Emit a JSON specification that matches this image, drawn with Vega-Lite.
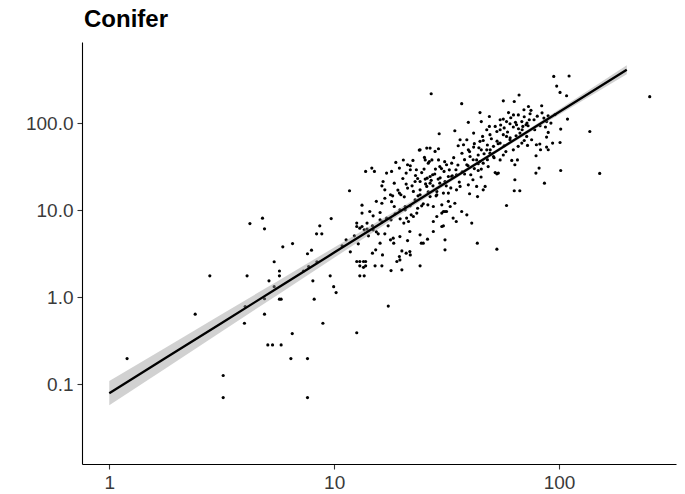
{
  "$schema": "https://vega.github.io/schema/vega-lite/v6.json",
  "width": 594,
  "height": 422,
  "autosize": "none",
  "padding": {"left": 82, "top": 42, "right": 9, "bottom": 30},
  "background": "white",
  "config": {
    "view": {"stroke": null},
    "font": "Liberation Sans",
    "axis": {
      "grid": false,
      "domainColor": "black",
      "domainWidth": 1.1,
      "tickColor": "#333333",
      "tickSize": 5,
      "tickWidth": 1.1,
      "labelFont": "Liberation Sans",
      "labelFontSize": 19,
      "labelColor": "#3a3a3a",
      "title": null
    }
  },
  "title": {
    "text": "Conifer",
    "anchor": "start",
    "frame": "group",
    "offset": 10,
    "font": "Liberation Sans",
    "fontSize": 24,
    "fontWeight": "bold",
    "color": "black",
    "dx": 2
  },
  "datasets": {
    "pts": [
      {"x":1.2,"y":0.197},{"x":2.41,"y":0.638},{"x":2.8,"y":1.76},{"x":3.21,"y":0.126},{"x":3.21,"y":0.0702},{"x":4.1,"y":1.76},{"x":3.99,"y":0.502},{"x":4.02,"y":0.78},{"x":4.22,"y":7.01},{"x":4.8,"y":8.09},{"x":4.9,"y":6.1},{"x":5.13,"y":1.54},{"x":5.41,"y":2.55},{"x":5.41,"y":1.32},{"x":4.9,"y":0.96},{"x":4.9,"y":0.638},{"x":5.71,"y":2.0},{"x":5.71,"y":1.76},{"x":5.71,"y":0.948},{"x":5.81,"y":0.948},{"x":5.91,"y":3.79},{"x":6.53,"y":4.13},{"x":6.51,"y":0.382},{"x":5.07,"y":0.283},{"x":5.32,"y":0.283},{"x":5.81,"y":0.283},{"x":6.42,"y":0.197},{"x":7.61,"y":0.197},{"x":7.61,"y":0.0702},{"x":7.61,"y":3.15},{"x":7.93,"y":3.47},{"x":8.04,"y":1.54},{"x":8.15,"y":0.948},{"x":8.91,"y":0.502},{"x":8.38,"y":2.55},{"x":8.63,"y":6.6},{"x":8.35,"y":5.34},{"x":8.81,"y":5.34},{"x":9.7,"y":8.0},{"x":9.6,"y":1.76},{"x":9.95,"y":1.32},{"x":10.2,"y":1.13},{"x":7.3,"y":2.0},{"x":7.7,"y":2.25},
      {"x":27.0,"y":217},{"x":29.3,"y":75.3},{"x":23.9,"y":48.9},{"x":25.8,"y":51.6},{"x":26.7,"y":51.6},{"x":29.1,"y":50.7},{"x":25.2,"y":40.3},{"x":26.5,"y":36.2},{"x":29.1,"y":37.7},{"x":22.4,"y":37.2},{"x":20.3,"y":37.6},{"x":18.8,"y":35.3},{"x":21.2,"y":33.2},{"x":21.8,"y":32.3},{"x":19.5,"y":30.4},{"x":21.8,"y":29.1},{"x":20.9,"y":26.6},{"x":25.1,"y":29.6},{"x":23.2,"y":29.1},{"x":28.2,"y":29.6},{"x":27.4,"y":25.5},{"x":25.9,"y":23.3},{"x":23.5,"y":23.1},{"x":20.2,"y":23.1},{"x":18.5,"y":20.4},{"x":20.9,"y":19.9},{"x":21.2,"y":17.9},{"x":22.9,"y":21.3},{"x":24.1,"y":21.3},{"x":26.7,"y":20.4},{"x":29.5,"y":20.4},{"x":32.2,"y":24.3},{"x":30.8,"y":27.8},{"x":30.6,"y":15.7},{"x":32.2,"y":15.7},{"x":28.6,"y":15.0},{"x":26.2,"y":15.7},{"x":24.1,"y":15.0},{"x":22.5,"y":16.4},{"x":19.5,"y":15.7},{"x":19.8,"y":15.0},{"x":17.8,"y":15.0},{"x":18.2,"y":14.6},{"x":16.8,"y":17.1},{"x":16.5,"y":21.3},{"x":16.3,"y":19.0},{"x":17.1,"y":26.6},{"x":18.0,"y":27.8},{"x":15.1,"y":27.8},{"x":13.8,"y":27.8},{"x":14.7,"y":30.4},{"x":11.7,"y":16.7},{"x":13.3,"y":11.4},{"x":13.3,"y":9.24},{"x":14.4,"y":9.64},{"x":14.9,"y":8.59},{"x":16.0,"y":9.38},{"x":15.4,"y":12.6},{"x":16.3,"y":12.0},{"x":16.8,"y":13.7},{"x":16.0,"y":7.73},{"x":17.1,"y":8.09},{"x":17.9,"y":7.73},{"x":18.5,"y":11.0},{"x":19.6,"y":10.1},{"x":20.7,"y":11.0},{"x":22.0,"y":8.83},{"x":21.4,"y":7.4},{"x":23.5,"y":10.5},{"x":24.5,"y":11.2},{"x":26.1,"y":11.5},{"x":27.6,"y":11.0},{"x":28.6,"y":8.44},{"x":31.1,"y":9.64},{"x":30.1,"y":6.48},{"x":31.1,"y":3.5},{"x":27.6,"y":5.68},{"x":26.0,"y":4.64},{"x":24.9,"y":4.17},{"x":24.4,"y":4.17},{"x":24.1,"y":5.2},{"x":21.7,"y":5.68},{"x":21.2,"y":4.47},{"x":19.6,"y":4.97},{"x":18.3,"y":4.76},{"x":17.8,"y":4.56},{"x":18.4,"y":4.17},{"x":16.8,"y":5.34},{"x":15.7,"y":5.34},{"x":14.9,"y":5.94},{"x":14.0,"y":7.09},{"x":13.3,"y":6.48},{"x":12.6,"y":7.09},{"x":12.6,"y":6.48},{"x":13.0,"y":6.2},{"x":14.0,"y":6.05},{"x":16.0,"y":4.17},{"x":14.8,"y":3.2},{"x":15.3,"y":3.5},{"x":16.4,"y":3.06},{"x":19.5,"y":2.93},{"x":20.0,"y":3.4},{"x":20.9,"y":3.2},{"x":21.7,"y":3.34},{"x":21.8,"y":3.06},{"x":19.0,"y":2.57},{"x":19.6,"y":2.68},{"x":17.9,"y":2.02},{"x":24.1,"y":2.29},{"x":15.2,"y":2.29},{"x":16.3,"y":2.29},{"x":13.8,"y":2.29},{"x":12.6,"y":2.57},{"x":13.0,"y":2.57},{"x":13.5,"y":2.57},{"x":13.8,"y":2.57},{"x":13.0,"y":2.29},{"x":13.5,"y":2.2},{"x":13.0,"y":1.76},{"x":13.6,"y":1.76},
      {"x":36.9,"y":167},{"x":94.7,"y":343},{"x":110.8,"y":347},{"x":97.6,"y":266},{"x":101,"y":225},{"x":108,"y":206},{"x":253,"y":201},{"x":56.5,"y":180},{"x":63.2,"y":177},{"x":66.4,"y":210},{"x":83.7,"y":158},{"x":73.1,"y":155},{"x":69.8,"y":142},{"x":74.3,"y":128},{"x":59.6,"y":132},{"x":62.7,"y":124},{"x":65.9,"y":124},{"x":44.5,"y":132},{"x":49.0,"y":119},{"x":54.7,"y":109},{"x":56.5,"y":111},{"x":58.4,"y":104},{"x":39.5,"y":102},{"x":45.1,"y":104},{"x":60.5,"y":98.2},{"x":62.6,"y":90},{"x":64.7,"y":95.6},{"x":68.3,"y":104},{"x":69.0,"y":91.4},{"x":71.3,"y":95.6},{"x":73.7,"y":109},{"x":77.9,"y":83.7},{"x":85.6,"y":114},{"x":88.0,"y":104},{"x":87.0,"y":90},{"x":89.5,"y":78},{"x":109,"y":111},{"x":101.7,"y":85.3},{"x":137,"y":80},{"x":88.0,"y":69},{"x":93.6,"y":58.9},{"x":101,"y":59.8},{"x":79.3,"y":56.3},{"x":82.1,"y":57.4},{"x":82.7,"y":49.3},{"x":88.0,"y":53.0},{"x":89.5,"y":49.3},{"x":72.4,"y":55.3},{"x":79.0,"y":42.1},{"x":81.5,"y":30.4},{"x":78.9,"y":26.6},{"x":86.1,"y":20.4},{"x":101.7,"y":28.5},{"x":151.6,"y":26.4},{"x":65.3,"y":37.7},{"x":63.6,"y":33.2},{"x":61.6,"y":37.2},{"x":63.6,"y":22.3},{"x":63.2,"y":16.7},{"x":66.9,"y":16.7},{"x":58.4,"y":11.3},{"x":53.7,"y":26.6},{"x":52.9,"y":26.1},{"x":52.0,"y":27},{"x":48.4,"y":31.6},{"x":46.0,"y":34.6},{"x":43.0,"y":37.7},{"x":44.5,"y":36.2},{"x":40.2,"y":41.3},{"x":38.9,"y":33.2},{"x":43.7,"y":28.5},{"x":45.1,"y":29.6},{"x":40.5,"y":25.5},{"x":41.4,"y":22.3},{"x":39.5,"y":19.5},{"x":43.0,"y":18.7},{"x":43.4,"y":14.3},{"x":46.0,"y":17.1},{"x":46.9,"y":18.7},{"x":40.0,"y":15.4},{"x":38.9,"y":8.83},{"x":36.9,"y":9.64},{"x":40.9,"y":7.09},{"x":43.3,"y":4.17},{"x":52.9,"y":3.56},{"x":34.9,"y":7.4},{"x":33.8,"y":8.1},{"x":31.6,"y":9.64},{"x":30.1,"y":9.24},{"x":30.6,"y":9.64},{"x":34.4,"y":12.0},{"x":32.2,"y":12.6},{"x":32.8,"y":11.0},{"x":30.1,"y":11.5},{"x":31.1,"y":4.56},{"x":30.6,"y":6.6},{"x":27.6,"y":7.4},{"x":23.3,"y":9.24},{"x":22.5,"y":8.44},{"x":21.0,"y":8.1},{"x":20.4,"y":7.1},{"x":28.6,"y":16.4},{"x":26.7,"y":14.3},{"x":24.1,"y":17.1},{"x":25.8,"y":18.7},{"x":36.3,"y":18.7},{"x":35.0,"y":17.1},{"x":29.0,"y":22.7},{"x":31.1,"y":21.3},{"x":26.7,"y":24.3},{"x":25.4,"y":22.7},{"x":33.3,"y":24.3},{"x":35.0,"y":25.5},{"x":29.5,"y":31.6},{"x":31.6,"y":33.2},{"x":33.3,"y":34.6},{"x":27.2,"y":37.7},{"x":26.2,"y":34.6},{"x":25.4,"y":37.7},{"x":28.1,"y":47.2},{"x":24.1,"y":49.2},{"x":34.4,"y":81.5},{"x":36.3,"y":64.3},{"x":35.6,"y":54.8},{"x":37.6,"y":56.3},{"x":39.5,"y":49.2},{"x":38.9,"y":64.3},{"x":41.7,"y":76.7},{"x":44.5,"y":61.6},{"x":45.7,"y":70.2},{"x":47.7,"y":83.7},{"x":49.3,"y":73.6},{"x":49.0,"y":91.4},{"x":52.0,"y":91.4},{"x":52.9,"y":80},{"x":54.7,"y":83.7},{"x":56.5,"y":73.6},{"x":58.4,"y":70.2},{"x":60.5,"y":64.3},{"x":54.7,"y":58.9},{"x":51.1,"y":54.0},{"x":47.7,"y":49.2},{"x":49.3,"y":45.1},{"x":45.1,"y":49.2},{"x":41.7,"y":53.0},{"x":43.7,"y":43},{"x":51.1,"y":41.3},{"x":54.7,"y":37.7},{"x":56.5,"y":43},{"x":62.6,"y":49.2},{"x":65.8,"y":54.0},{"x":68.3,"y":58.9},{"x":67.0,"y":76.7},{"x":71.8,"y":70.2},{"x":75.5,"y":64.3},
      {"x":16.35,"y":7.34},{"x":17.38,"y":6.6},{"x":18.67,"y":9.07},{"x":19.65,"y":7.94},{"x":20.69,"y":10.08},{"x":21.77,"y":11.2},{"x":22.9,"y":13.1},{"x":23.6,"y":14.6},{"x":24.9,"y":11.8},{"x":26.2,"y":16.2},{"x":27.5,"y":19.0},{"x":28.4,"y":14.6},{"x":29.6,"y":23.5},{"x":31.5,"y":19.0},{"x":33.5,"y":24.8},{"x":34.8,"y":29.1},{"x":37.1,"y":27.6},{"x":39.4,"y":32.3},{"x":41.5,"y":37.9},{"x":43.7,"y":34.1},{"x":46.4,"y":44.4},{"x":49.4,"y":49.3},{"x":51.4,"y":39.9},{"x":53.6,"y":57.8},{"x":57.0,"y":54.8},{"x":60.6,"y":67.8},{"x":64.4,"y":71.5},{"x":68.5,"y":83.8},{"x":72.8,"y":93.1},{"x":77.4,"y":109},{"x":82.3,"y":93.1},{"x":89.4,"y":121},
      {"x":10.85,"y":3.89},{"x":11.3,"y":4.56},{"x":11.8,"y":3.32},{"x":12.3,"y":5.07},{"x":12.8,"y":4.1},{"x":13.6,"y":5.94},{"x":14.2,"y":5.07},{"x":14.8,"y":6.6},{"x":15.4,"y":5.63},{"x":12.6,"y":0.39},{"x":17.4,"y":0.79},{"x":20.0,"y":2.06},
      {"x":18.0,"y":12.5},{"x":19.2,"y":17.0},{"x":20.5,"y":14.2},{"x":22.2,"y":19.0},{"x":23.0,"y":25.0},{"x":24.5,"y":27.0},{"x":25.5,"y":20.0},{"x":27.0,"y":22.0},{"x":28.0,"y":26.0},{"x":30.0,"y":30.0},{"x":31.0,"y":36.0},{"x":32.5,"y":29.0},{"x":34.0,"y":40.0},{"x":35.5,"y":33.0},{"x":37.0,"y":45.0},{"x":38.0,"y":38.0},{"x":40.0,"y":47.0},{"x":42.0,"y":58.0},{"x":44.0,"y":52.0},{"x":46.0,"y":63.0},{"x":48.0,"y":56.0},{"x":50.0,"y":66.0},{"x":53.0,"y":62.0},{"x":55.0,"y":95.0},{"x":57.0,"y":88.0},{"x":59.0,"y":79.0},{"x":61.0,"y":115.0},{"x":64.0,"y":102.0},{"x":66.0,"y":86.0},{"x":70.0,"y":118.0},{"x":72.0,"y":100.0},{"x":75.0,"y":140.0},{"x":80.0,"y":120.0},{"x":84.0,"y":131.0},{"x":92.0,"y":100.0},{"x":96.0,"y":125.0},{"x":33.0,"y":18.0},{"x":36.0,"y":21.0},{"x":38.0,"y":26.0},{"x":42.0,"y":30.0},{"x":45.0,"y":24.0},{"x":48.0,"y":38.0},{"x":58.0,"y":47.0},{"x":70.0,"y":63.0}
    ],
    "fit": [
      {"x":1,"fit":0.0789,"lo":0.0573,"hi":0.1086},
      {"x":1.778,"fit":0.2,"lo":0.1521,"hi":0.263},
      {"x":3.162,"fit":0.5064,"lo":0.4033,"hi":0.6358},
      {"x":5.623,"fit":1.282,"lo":1.069,"hi":1.538},
      {"x":10,"fit":3.251,"lo":2.835,"hi":3.728},
      {"x":17.78,"fit":8.241,"lo":7.503,"hi":9.051},
      {"x":31.62,"fit":20.87,"lo":19.74,"hi":22.07},
      {"x":50.12,"fit":43.91,"lo":42.12,"hi":45.77},
      {"x":79.43,"fit":92.38,"lo":87.38,"hi":97.66},
      {"x":125.9,"fit":194.3,"lo":178.4,"hi":211.7},
      {"x":200,"fit":410.2,"lo":364.0,"hi":462.3}
    ]
  },
  "encoding": {
    "x": {
      "field": "x",
      "type": "quantitative",
      "scale": {"type": "log", "domain": [0.7563, 331.1], "nice": false, "zero": false},
      "axis": {"values": [1, 10, 100], "format": "d", "labelPadding": 4}
    }
  },
  "layer": [
    {
      "data": {"name": "pts"},
      "mark": {"type": "circle", "size": 10, "color": "black", "opacity": 1},
      "encoding": {
        "y": {
          "field": "y",
          "type": "quantitative",
          "scale": {"type": "log", "domain": [0.01213, 853], "nice": false, "zero": false},
          "axis": {"values": [0.1, 1, 10, 100], "format": ".1f", "labelPadding": 4}
        }
      }
    },
    {
      "data": {"name": "fit"},
      "mark": {"type": "area", "color": "#999999", "opacity": 0.45},
      "encoding": {
        "y": {"field": "lo", "type": "quantitative"},
        "y2": {"field": "hi"}
      }
    },
    {
      "data": {"name": "fit"},
      "mark": {"type": "line", "color": "black", "strokeWidth": 2.3},
      "encoding": {
        "y": {"field": "fit", "type": "quantitative"}
      }
    }
  ]
}
